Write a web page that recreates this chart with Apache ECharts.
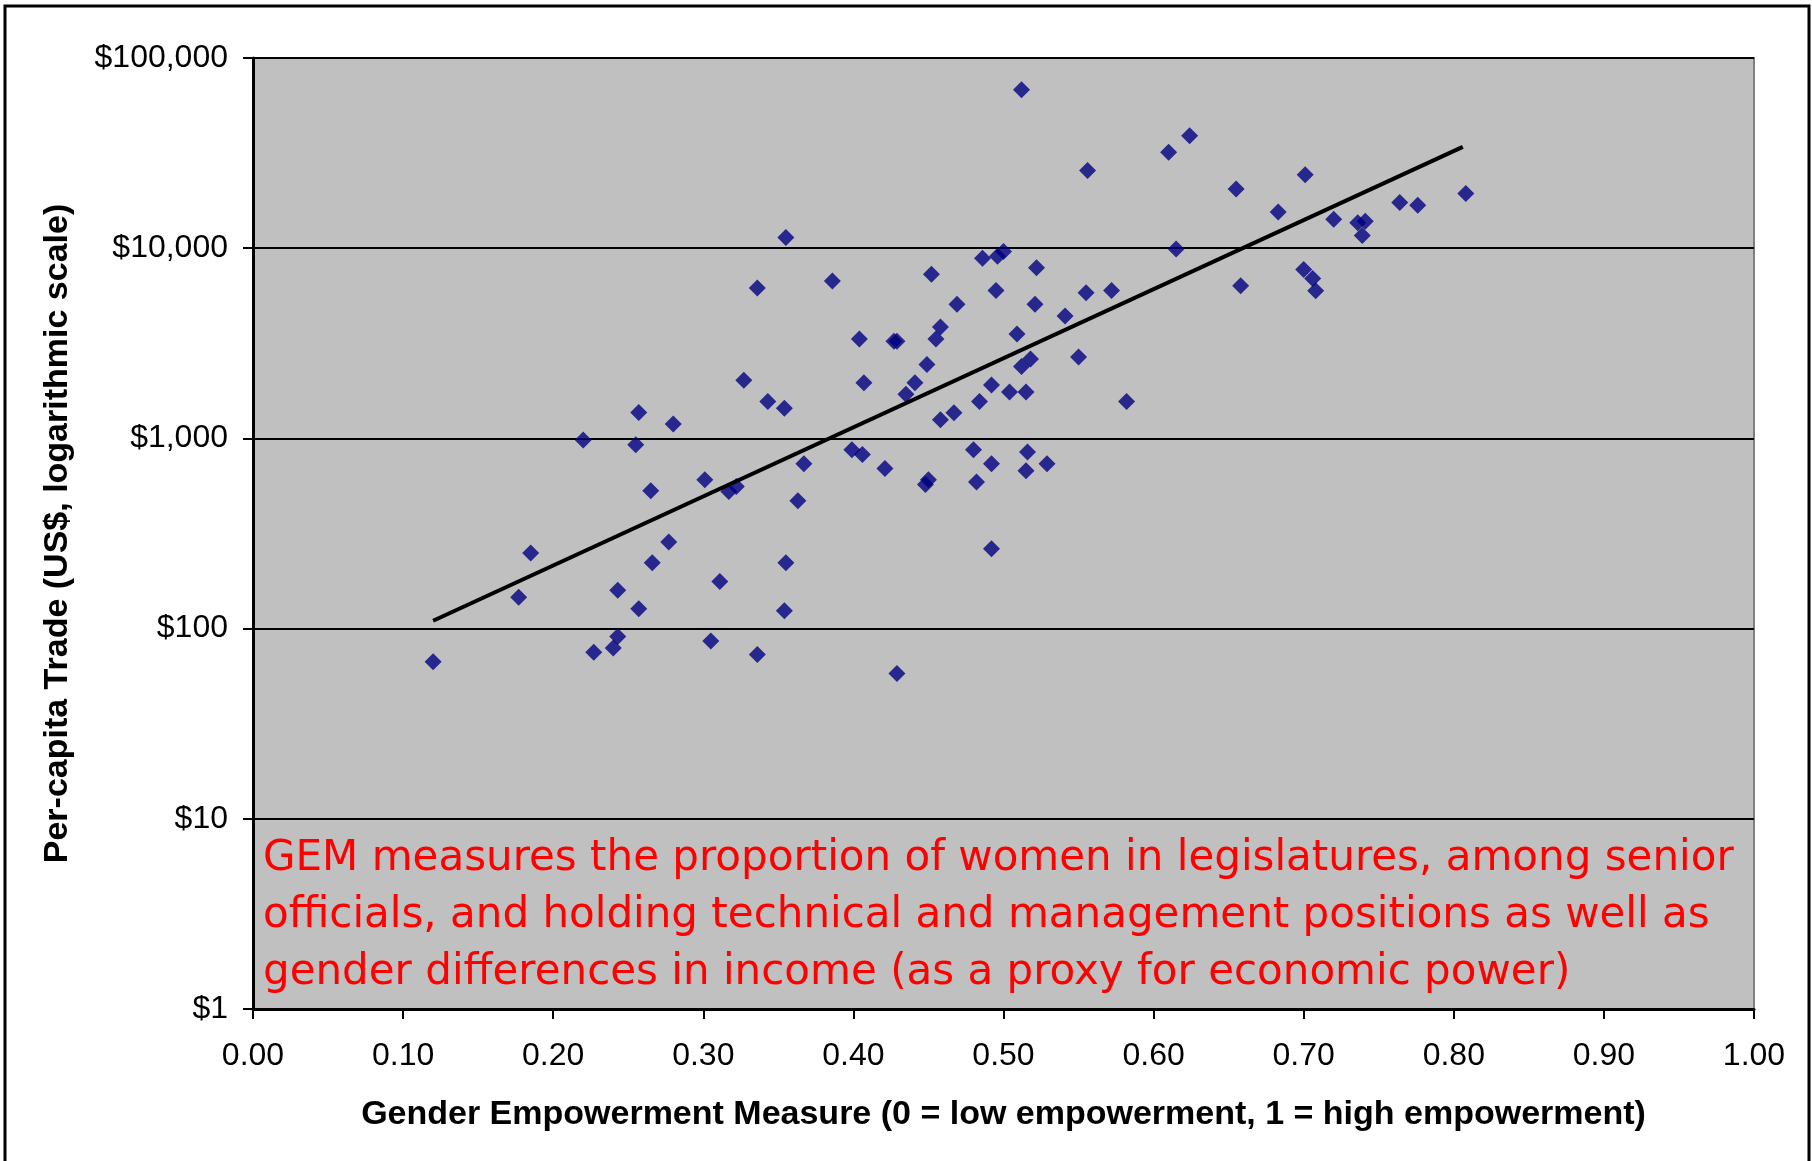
<!DOCTYPE html>
<html>
<head>
<meta charset="utf-8">
<title>Per-capita Trade vs Gender Empowerment Measure</title>
<script src="https://cdn.jsdelivr.net/npm/echarts@6/dist/echarts.min.js"></script>
<style>
  html, body { margin: 0; padding: 0; background: #ffffff; }
  #chart { width: 1812px; height: 1161px; }
</style>
</head>
<body>
<div id="chart"></div>
<script>
// Gender Empowerment Measure for each country
var gem = [
  0.120, 0.177, 0.185, 0.220, 0.227, 0.240, 0.243, 0.243, 0.255, 0.257,
  0.257, 0.265, 0.266, 0.277, 0.280, 0.301, 0.305, 0.311, 0.317, 0.322,
  0.327, 0.336, 0.336, 0.343, 0.354, 0.355, 0.355, 0.354, 0.363, 0.367,
  0.386, 0.399, 0.404, 0.406, 0.407, 0.421, 0.427, 0.429, 0.429, 0.435,
  0.441, 0.448, 0.450, 0.449, 0.452, 0.455, 0.458, 0.458, 0.467, 0.469,
  0.480, 0.482, 0.484, 0.486, 0.492, 0.492, 0.492, 0.496, 0.500, 0.495,
  0.504, 0.509, 0.512, 0.512, 0.518, 0.515, 0.515, 0.516, 0.521, 0.522,
  0.529, 0.541, 0.550, 0.555, 0.556, 0.572, 0.582, 0.610, 0.615, 0.624,
  0.655, 0.658, 0.683, 0.700, 0.701, 0.706, 0.708, 0.720, 0.736, 0.741,
  0.739, 0.764, 0.776, 0.808
];

// Per-capita trade (US$) for the same countries
var trade = [
  67, 146, 250, 980, 75, 79, 91, 159, 926, 1370,
  127, 531, 222, 285, 1190, 606, 86, 177, 526, 559,
  2020, 6180, 73, 1565, 1440, 11370, 222, 124, 470, 736,
  6730, 872, 3330, 824, 1963, 695, 3240, 3240, 58, 1705,
  1963, 573, 606, 2450, 7290, 3330, 3850, 1254, 1365, 5070,
  872, 590, 1565, 8850, 1910, 736, 263, 9060, 9600, 6000,
  1754, 3540, 68000, 2385, 2615, 1754, 676, 848, 5070, 7900,
  736, 4400, 2680, 5840, 25600, 6000, 1565, 31950, 9910, 39000,
  20500, 6340, 15520, 7720, 24300, 6920, 5980, 14190, 13590, 13850,
  11650, 17380, 16800, 19370
];

// Exponential trend line end points (straight on the log scale)
var trendGem = [0.120, 0.806];
var trendTrade = [110, 34100];

// Axis tick labels
var xTicks = ['0.00', '0.10', '0.20', '0.30', '0.40', '0.50', '0.60', '0.70', '0.80', '0.90', '1.00'];
var yTicks = ['$1', '$10', '$100', '$1,000', '$10,000', '$100,000'];

var note = 'GEM measures the proportion of women in legislatures, among senior\n' +
           'officials, and holding technical and management positions as well as\n' +
           'gender differences in income (as a proxy for economic power)';

var points = gem.map(function (g, i) { return [g, trade[i]]; });
var trend = trendGem.map(function (g, i) { return [g, trendTrade[i]]; });

var FONT = '"Liberation Sans", Arial, sans-serif';

var chart = echarts.init(document.getElementById('chart'), null, { renderer: 'canvas' });

chart.setOption({
  animation: false,
  backgroundColor: '#ffffff',
  grid: {
    left: 253, right: 58, top: 58, bottom: 152,
    show: true,
    backgroundColor: '#C0C0C0',
    borderColor: '#808080',
    borderWidth: 2
  },
  xAxis: {
    type: 'value',
    min: 0, max: 1, interval: 0.1,
    name: 'Gender Empowerment Measure (0 = low empowerment, 1 = high empowerment)',
    nameLocation: 'middle',
    nameGap: 89,
    nameTextStyle: { fontFamily: FONT, fontSize: 34, fontWeight: 'bold', color: '#000' },
    axisLine: { show: true, onZero: false, lineStyle: { color: '#000', width: 3 } },
    axisTick: { show: true, inside: false, length: 10, lineStyle: { color: '#000', width: 2 } },
    axisLabel: {
      fontFamily: FONT, fontSize: 32, color: '#000', margin: 31,
      formatter: function (v) { return xTicks[Math.round(v * 10)]; }
    },
    splitLine: { show: false }
  },
  yAxis: {
    type: 'log',
    logBase: 10,
    min: 1, max: 100000,
    name: 'Per-capita Trade (US$, logarithmic scale)',
    nameLocation: 'middle',
    nameRotate: 90,
    nameGap: 178,
    nameTextStyle: { fontFamily: FONT, fontSize: 34, fontWeight: 'bold', color: '#000' },
    axisLine: { show: true, lineStyle: { color: '#000', width: 3 } },
    axisTick: { show: true, inside: false, length: 10, lineStyle: { color: '#000', width: 2 } },
    axisLabel: {
      fontFamily: FONT, fontSize: 32, color: '#000', margin: 25,
      formatter: function (v) { return yTicks[Math.round(Math.log10(v))]; }
    },
    splitLine: { show: true, lineStyle: { color: '#000', width: 2 } }
  },
  series: [
    {
      name: 'Countries',
      type: 'scatter',
      data: points,
      symbol: 'diamond',
      symbolSize: [17, 17],
      itemStyle: { color: '#000080' },
      z: 3
    },
    {
      name: 'Trend',
      type: 'line',
      data: trend,
      showSymbol: false,
      symbol: 'none',
      lineStyle: { color: '#000', width: 4 },
      z: 4
    }
  ],
  graphic: [
    {
      type: 'rect',
      shape: { x: 5, y: 6, width: 1804, height: 1170 },
      style: { fill: 'none', stroke: '#000', lineWidth: 3 },
      silent: true
    },
    {
      type: 'text',
      x: 263, y: 831,
      style: {
        text: note,
        fill: '#FF0000',
        font: '42px "DejaVu Sans", Verdana, sans-serif',
        lineHeight: 57,
        verticalAlign: 'top'
      },
      z: 10
    }
  ]
});
</script>
</body>
</html>
